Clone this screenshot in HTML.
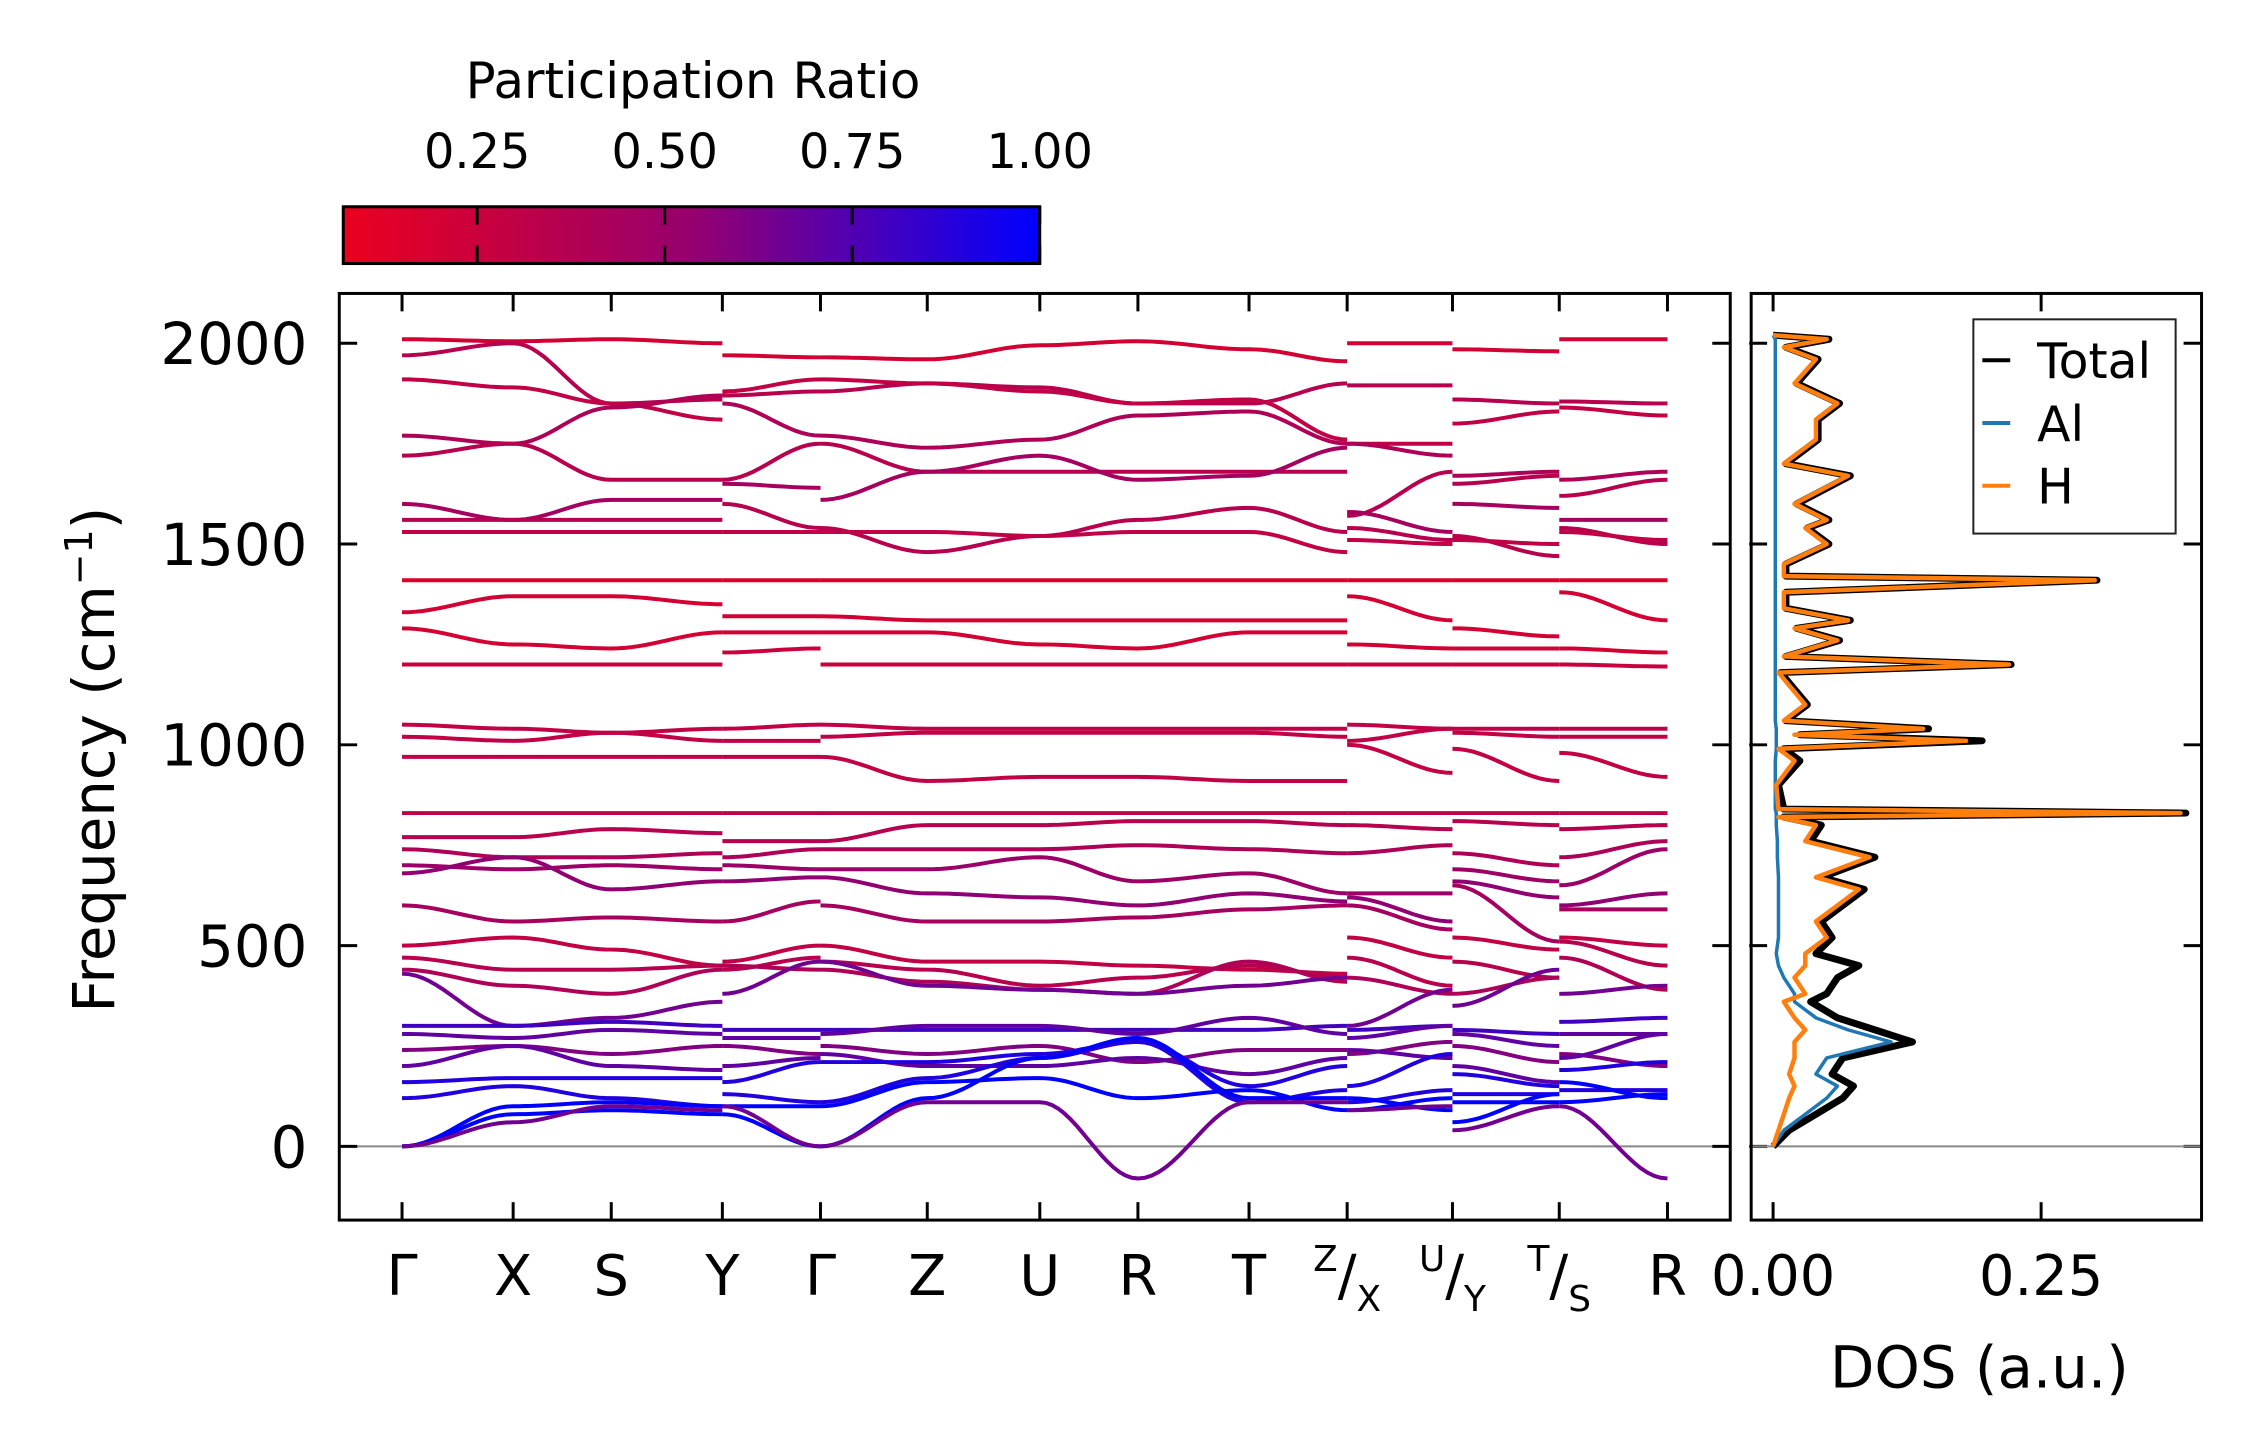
<!DOCTYPE html>
<html><head><meta charset="utf-8">
<style>
html,body{margin:0;padding:0;background:#fff;}
svg{display:block;font-family:"DejaVu Sans","Liberation Sans",sans-serif;}
</style></head>
<body>
<svg id="chart" width="2259" height="1455" viewBox="0 0 2259 1455" xmlns="http://www.w3.org/2000/svg">
<defs>
<linearGradient id="cbg" x1="0" x2="1" y1="0" y2="0">
<stop offset="0" stop-color="rgb(235,0,30)"/>
<stop offset="0.5" stop-color="rgb(150,0,110)"/>
<stop offset="1" stop-color="rgb(0,0,255)"/>
</linearGradient>
<clipPath id="mainclip"><rect x="342" y="295" width="1396" height="930"/></clipPath>
<clipPath id="dosclip"><rect x="1759" y="295" width="452" height="930"/></clipPath>
</defs>
<g transform="translate(-1.5,-0.5) scale(0.9964)">
<g id="colorbar">
<text x="697" y="99" font-size="50" text-anchor="middle">Participation Ratio</text>
<rect x="346" y="208" width="699" height="57" fill="url(#cbg)" stroke="#000" stroke-width="3"/>
</g>
<g id="main"></g>
<g id="dos"></g>
<text transform="translate(116,763) rotate(-90)" font-size="58" text-anchor="middle">Frequency (cm<tspan font-size="38" dy="-22">−1</tspan><tspan dy="22">)</tspan></text>
<text x="1988" y="1393" font-size="58" text-anchor="middle">DOS (a.u.)</text>
</g>
</svg>
<script>
// ---- data ----
const kLabels=["Γ","X","S","Y","Γ","Z","U","R","T","Z|X","U|Y","T|S","R"];
const kDist=[0,77,145,222,290,364,442,510,587,655,728,802,877];
const yTicks=[0,500,1000,1500,2000];
const cbTicks=[0.25,0.5,0.75,1.0];
const dosTicks=[0,0.25];
const dosTickLabels=["0.00","0.25"];
// value index -> node index, grouped in path segments
const segNodes=[[0,1,2,3],[3,4],[4,5,6,7,8,9],[9,10],[10,11],[11,12]];
// each band: 18 freqs (Γ X S Y | Y Γ | Γ Z U R T Z | X U | Y T | S R)
const bands=[
[2010,2005,2010,2000,1970,1965,1965,1960,1995,2005,1985,1955,2000,2000,1985,1980,2010,2010],
[1970,2000,1850,1860,1870,1880,1880,1900,1890,1850,1850,1900,1895,1895,1860,1850,1855,1850],
[1910,1890,1850,1810,1880,1910,1910,1900,1880,1850,1860,1760,1750,1750,1800,1830,1840,1820],
[1770,1750,1840,1870,1850,1770,1770,1740,1760,1820,1830,1750,1750,1720,1670,1680,1660,1680],
[1720,1750,1660,1660,1660,1750,1750,1680,1680,1680,1680,1680,1570,1680,1650,1670,1620,1660],
[1600,1560,1610,1610,1650,1640,1610,1680,1720,1660,1670,1740,1580,1530,1600,1590,1560,1560],
[1560,1560,1560,1560,1600,1540,1540,1480,1520,1560,1590,1530,1540,1510,1520,1470,1540,1500],
[1530,1530,1530,1530,1530,1530,1530,1530,1520,1530,1530,1480,1510,1500,1510,1500,1530,1510],
[1410,1410,1410,1410,1410,1410,1410,1410,1410,1410,1410,1410,1410,1410,1410,1410,1410,1410],
[1330,1370,1370,1350,1320,1320,1320,1310,1310,1310,1310,1310,1370,1310,1290,1270,1380,1310],
[1290,1250,1240,1280,1280,1280,1280,1280,1250,1240,1280,1280,1250,1240,1240,1240,1240,1230],
[1200,1200,1200,1200,1230,1240,1200,1200,1200,1200,1200,1200,1200,1200,1200,1200,1200,1195],
[1050,1040,1030,1040,1040,1050,1050,1040,1040,1040,1040,1040,1050,1040,1040,1040,1040,1040],
[1020,1010,1030,1010,1010,1010,1020,1030,1030,1030,1030,1020,1010,1040,1030,1020,1020,1020],
[970,970,970,970,970,970,970,910,920,920,910,910,1000,930,990,910,980,920],
[830,830,830,830,830,830,830,830,830,830,830,830,830,830,830,830,830,830],
[770,770,790,780,760,760,760,800,800,810,810,800,800,790,810,800,790,800],
[740,720,720,730,720,740,740,740,740,750,740,730,730,750,730,700,720,760],
[700,690,700,690,700,690,690,690,720,660,680,630,630,630,690,660,650,740],
[680,720,640,660,660,670,670,630,620,600,630,610,620,560,660,620,600,630],
[600,560,570,560,560,610,600,560,560,570,590,600,600,540,650,510,590,590],
[500,520,490,450,460,500,500,460,460,450,440,430,520,470,520,490,520,500],
[470,440,440,450,440,470,460,440,400,420,450,420,470,400,460,420,510,450],
[440,400,380,440,450,440,440,410,390,380,460,410,420,380,380,420,470,390],
[430,300,320,360,380,460,460,400,390,380,400,420,300,390,350,440,380,400],
[300,300,310,300,290,290,290,290,290,290,290,300,290,300,290,280,310,320],
[280,270,290,280,270,270,280,300,300,280,320,280,270,300,280,250,280,280],
[240,250,230,250,250,230,250,230,250,210,240,240,230,260,250,210,230,200],
[200,250,200,190,200,220,230,200,200,220,180,220,240,220,200,160,220,280],
[160,170,170,170,160,210,210,210,230,260,150,200,150,230,180,150,190,210],
[120,150,120,100,130,110,110,170,220,260,110,140,110,140,130,130,140,140],
[0,80,90,80,80,0,0,120,220,270,120,120,90,120,110,110,110,130],
[0,100,110,100,100,100,100,160,170,120,140,90,120,90,60,130,160,120],
[0,60,100,90,100,0,0,110,110,-80,110,110,90,100,40,100,100,-80]
];
const bandPR=[0.2,0.35,0.3,0.4,0.35,0.45,0.35,0.3,0.15,0.2,0.2,0.25,0.3,0.3,0.3,0.3,0.35,0.4,0.5,0.55,0.45,0.3,0.35,0.4,0.65,0.8,0.7,0.6,0.7,0.9,0.9,1.0,1.0,0.65];
const dosFreq=[0,40,80,120,150,180,220,260,290,320,360,380,420,450,480,520,560,600,640,670,720,760,800,820,830,840,900,960,990,1010,1025,1040,1060,1100,1180,1200,1220,1260,1290,1310,1340,1380,1410,1420,1450,1500,1540,1560,1600,1670,1700,1760,1810,1850,1900,1960,1990,2010,2020];
const dosH=[0,.005,.01,.015,.02,.015,.02,.02,.03,.02,.01,.03,.02,.03,.03,.05,.04,.06,.08,.04,.09,.03,.04,.005,.38,.005,.003,.02,.005,.18,.02,.14,.01,.03,.005,.22,.01,.06,.02,.07,.01,.01,.30,.01,.01,.05,.03,.05,.02,.07,.01,.04,.04,.06,.02,.04,.01,.05,0];
const dosAl=[0,.01,.03,.05,.06,.04,.05,.11,.07,.04,.02,.02,.01,.005,.003,.005,.005,.005,.005,.005,.004,.004,.003,.003,.003,.002,.002,.002,.003,.003,.003,.003,.002,.002,.002,.002,.002,.002,.002,.002,.002,.002,.002,.002,.002,.002,.002,.002,.002,.002,.002,.002,.002,.002,.002,.002,.002,.002,0];
const dosTotal=[0,.015,.04,.065,.075,.055,.065,.13,.095,.06,.035,.05,.06,.08,.04,.055,.045,.065,.085,.045,.095,.035,.045,.01,.385,.01,.005,.025,.01,.195,.025,.145,.012,.032,.007,.222,.012,.062,.022,.072,.012,.012,.302,.012,.012,.052,.032,.052,.022,.072,.012,.042,.042,.062,.022,.042,.012,.052,0];

// ---- layout / scales ----
const NS="http://www.w3.org/2000/svg";
const M={l:342,r:1738,t:295,b:1225}, D={l:1759,r:2211};
const xK=d=>405+(d-kDist[0])*(1675-405)/(kDist[12]-kDist[0]);
const yF=f=>1151-f*(806/2000);
const xD=v=>1781+v*(269/0.25);
const cbX=v=>346+(v-0.0714)*(699/(1-0.0714));
function prColor(p){
  const t=Math.max(0,Math.min(1,(p-0.0714)/(1-0.0714)));
  let r,g,b;
  if(t<0.5){const u=t/0.5;r=235+(150-235)*u;g=0;b=30+(110-30)*u;}
  else{const u=(t-0.5)/0.5;r=150*(1-u);g=0;b=110+(255-110)*u;}
  return `rgb(${r|0},${g|0},${b|0})`;
}
function el(tag,attrs,parent){const e=document.createElementNS(NS,tag);for(const k in attrs)e.setAttribute(k,attrs[k]);parent.appendChild(e);return e;}
const main=document.getElementById('main'), dos=document.getElementById('dos'), cb=document.getElementById('colorbar');

// colorbar ticks
cbTicks.forEach(v=>{
  const x=cbX(v);
  const l=el('line',{x1:x,x2:x,y1:208,y2:226,stroke:'#000','stroke-width':3},cb);
  
  
  const l2=el('line',{x1:x,x2:x,y1:247,y2:265,stroke:'#000','stroke-width':3},cb);
  
  
  const t=el('text',{x:x,y:169,'font-size':48,'text-anchor':'middle'},cb);
  t.textContent=v.toFixed(2);
  
  
});

// zero line
const z=el('line',{x1:M.l,x2:M.r,y1:yF(0),y2:yF(0),stroke:'#888','stroke-width':2},main);


const z2=el('line',{x1:D.l,x2:D.r,y1:yF(0),y2:yF(0),stroke:'#888','stroke-width':2},dos);



// bands
const bg=el('g',{'clip-path':'url(#mainclip)'},main);


bands.forEach((b,bi)=>{
  let vi=0;
  segNodes.forEach(seg=>{
    let pts=[];
    for(let j=0;j<seg.length-1;j++){
      const f0=b[vi+j],f1=b[vi+j+1],x0=xK(kDist[seg[j]]),x1=xK(kDist[seg[j+1]]);
      for(let s=0;s<=16;s++){const u=s/16,w=(1-Math.cos(Math.PI*u))/2;
        if(j>0&&s===0)continue;
        pts.push((x0+(x1-x0)*u).toFixed(1)+','+yF(f0+(f1-f0)*w).toFixed(1));}
    }
    vi+=seg.length;
    const p=el('polyline',{points:pts.join(' '),fill:'none',stroke:prColor(bandPR[bi]),'stroke-width':4},bg);
    
    
  });
});

// main axes frame + ticks
const fr=el('rect',{x:M.l,y:M.t,width:M.r-M.l,height:M.b-M.t,fill:'none',stroke:'#000','stroke-width':3},main);


kDist.forEach((d,i)=>{
  const x=xK(d);
  [[M.t,M.t+18],[M.b,M.b-18]].forEach(([a,c])=>{
    const l=el('line',{x1:x,x2:x,y1:a,y2:c,stroke:'#000','stroke-width':3},main);
    
    
  });
  const lab=kLabels[i];
  const t=el('text',{x:x,y:1300,'font-size':56,'text-anchor':'middle'},main);
  
  
  if(lab.includes('|')){
    const [a,c]=lab.split('|');
    const s1=el('tspan',{'font-size':36,dy:-24},t);s1.textContent=a;
    const s2=el('tspan',{dy:24},t);s2.textContent='/';
    const s3=el('tspan',{'font-size':36,dy:16},t);s3.textContent=c;
  } else t.textContent=lab;
});
yTicks.forEach(f=>{
  const y=yF(f);
  [[M.l,M.l+18],[M.r,M.r-18],[D.l-2,D.l+16],[D.r,D.r-18]].forEach(([a,c])=>{
    const l=el('line',{x1:a,x2:c,y1:y,y2:y,stroke:'#000','stroke-width':3},main);
    
    
  });
  const t=el('text',{x:310,y:y+21,'font-size':58,'text-anchor':'end'},main);
  t.textContent=String(f);
  
  
});

// DOS
const dg=el('g',{'clip-path':'url(#dosclip)'},dos);


function dosLine(vals,color,w,name){
  const pts=vals.map((v,i)=>xD(v).toFixed(1)+','+yF(dosFreq[i]).toFixed(1)).join(' ');
  const p=el('polyline',{points:pts,fill:'none',stroke:color,'stroke-width':w,'stroke-linejoin':'round'},dg);
  
  
}
dosLine(dosTotal,'#000',7,'dos-total-line');
dosLine(dosAl,'#1f77b4',3.5,'dos-al-line');
dosLine(dosH,'#ff7f0e',4.5,'dos-h-line');
const fr2=el('rect',{x:D.l,y:M.t,width:D.r-D.l,height:M.b-M.t,fill:'none',stroke:'#000','stroke-width':3},dos);


dosTicks.forEach((v,i)=>{
  const x=xD(v);
  [[M.t,M.t+18],[M.b,M.b-18]].forEach(([a,c])=>{
    const l=el('line',{x1:x,x2:x,y1:a,y2:c,stroke:'#000','stroke-width':3},dos);
    
    
  });
  const t=el('text',{x:x,y:1300,'font-size':56,'text-anchor':'middle'},dos);
  t.textContent=dosTickLabels[i];
  
  
});
// legend
const lg=el('g',{},dos);


el('rect',{x:1982,y:321,width:203,height:215,fill:'#fff',stroke:'#222','stroke-width':2},lg);
[['Total','#000'],['Al','#1f77b4'],['H','#ff7f0e']].forEach(([n,c],i)=>{
  const y=362+i*63;
  const l=el('line',{x1:1991,x2:2019,y1:y,y2:y,stroke:c,'stroke-width':4},lg);
  
  
  const t=el('text',{x:2046,y:y+18,'font-size':49},lg);
  t.textContent=n;
  
  
});
</script>
</body></html>
